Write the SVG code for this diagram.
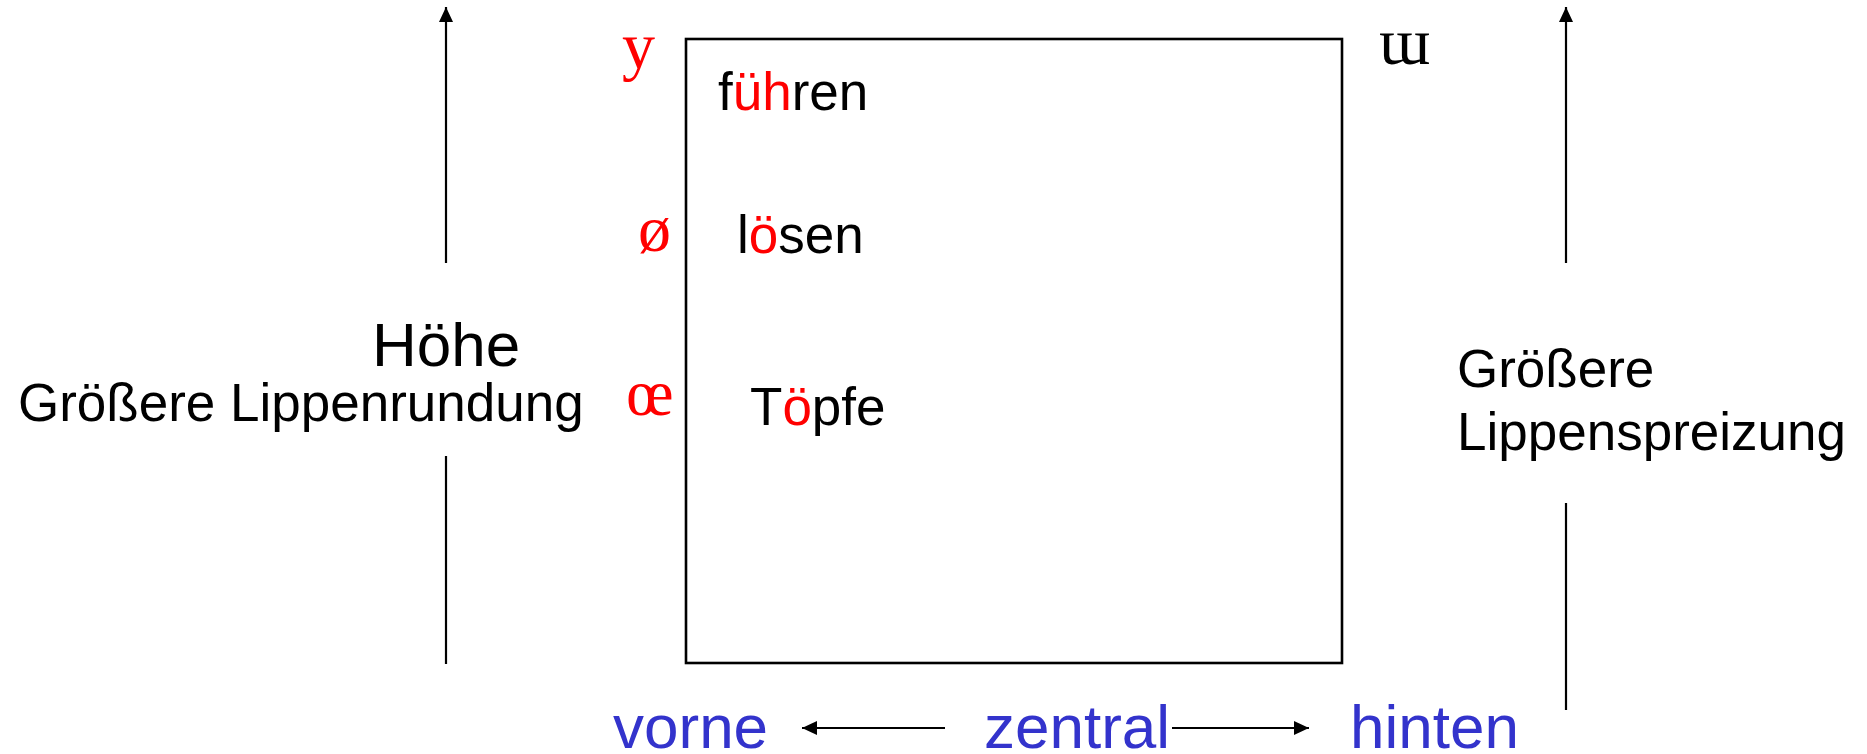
<svg xmlns="http://www.w3.org/2000/svg" width="1867" height="754" viewBox="0 0 1867 754">
  <defs>
    <style>
      .sans { font-family: "Liberation Sans", Arial, sans-serif; }
      .serif { font-family: "Liberation Serif", "DejaVu Serif", serif; }
      .lbl { font-size: 53px; fill: #000; }
      .ipa { font-size: 66px; fill: #FF0000; }
      .red { fill: #FF0000; }
      .blue { font-size: 62px; fill: #3333CC; }
      .ln { stroke: #000; stroke-width: 2.2; fill: none; }
    </style>
    <marker id="ah" markerUnits="userSpaceOnUse" markerWidth="16" markerHeight="14" refX="15" refY="7" orient="auto">
      <path d="M0,0 L15,7 L0,14 Z" fill="#000"/>
    </marker>
  </defs>
  <rect width="1867" height="754" fill="#fff"/>

  <g id="connectors">
    <line class="ln" x1="446" y1="263" x2="446" y2="7" marker-end="url(#ah)"/>
    <line class="ln" x1="446" y1="456" x2="446" y2="664"/>
    <line class="ln" x1="1566" y1="263" x2="1566" y2="7" marker-end="url(#ah)"/>
    <line class="ln" x1="1566" y1="503" x2="1566" y2="710"/>
    <line class="ln" x1="945" y1="728" x2="802" y2="728" marker-end="url(#ah)"/>
    <line class="ln" x1="1172" y1="728" x2="1309" y2="728" marker-end="url(#ah)"/>
  </g>

  <g id="box">
    <rect x="686" y="39" width="656" height="624" fill="none" stroke="#000" stroke-width="2.6"/>
  </g>

  <g id="hoehe">
    <text class="sans" x="446" y="366" font-size="62" text-anchor="middle">Höhe</text>
  </g>
  <g id="lippenrundung">
    <text class="sans lbl" x="18" y="421">Größere Lippenrundung</text>
  </g>
  <g id="lippenspreizung">
    <text class="sans lbl" x="1457" y="387">Größere</text>
    <text class="sans lbl" x="1457" y="450">Lippenspreizung</text>
  </g>

  <g id="ipa-y"><text class="serif ipa" x="622" y="68">y</text></g>
  <g id="ipa-oe-slash"><text class="serif ipa" x="638" y="251">ø</text></g>
  <g id="ipa-oe"><text class="serif ipa" x="626" y="415">œ</text></g>
  <g id="ipa-w"><text class="serif" x="1379" y="64" font-size="66" fill="#000">ɯ</text></g>

  <g id="fuehren"><text class="sans lbl" x="718" y="110">f<tspan class="red">üh</tspan>ren</text></g>
  <g id="loesen"><text class="sans lbl" x="737" y="253">l<tspan class="red">ö</tspan>sen</text></g>
  <g id="toepfe"><text class="sans lbl" x="750" y="425">T<tspan class="red">ö</tspan>pfe</text></g>

  <g id="vorne"><text class="sans blue" x="613" y="748">vorne</text></g>
  <g id="zentral"><text class="sans blue" x="984" y="748">zentral</text></g>
  <g id="hinten"><text class="sans blue" x="1350" y="748">hinten</text></g>
</svg>
